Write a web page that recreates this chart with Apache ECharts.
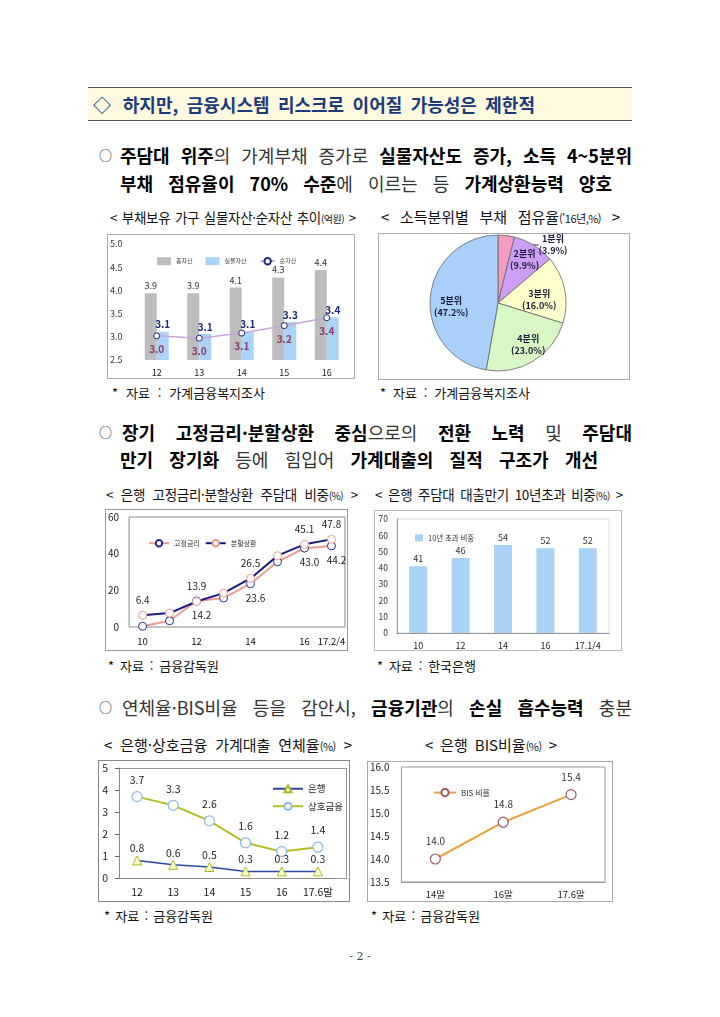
<!DOCTYPE html>
<html lang="ko"><head><meta charset="utf-8">
<title>chart</title>
<script src="https://cdn.jsdelivr.net/npm/echarts@6/dist/echarts.min.js"></script>
<style>
html,body{margin:0;padding:0;background:#fff;}
body{width:720px;height:1017px;position:relative;overflow:hidden;font-family:"Noto Sans CJK KR","Noto Sans",sans-serif;color:#111;}
.t{position:absolute;white-space:nowrap;text-align:justify;text-align-last:justify;}
.hdr{position:absolute;left:88px;top:87px;width:544px;height:34px;background:#fdfae0;border-top:1px solid #555;border-bottom:1px solid #555;box-sizing:border-box;}
.hd{font-size:18px;line-height:24px;height:24px;color:#1b3a7c;font-weight:bold;}
.bl{font-size:18px;line-height:24px;height:24px;color:#333;}
.bl b{color:#000;}
.dot{position:absolute;font-size:13px;line-height:24px;height:24px;color:#222;}
.ttl{font-size:13.5px;line-height:18px;height:18px;color:#111;letter-spacing:-0.3px;}
.ttl.big{font-size:15px;letter-spacing:0;}
.ttl small{font-size:10px;letter-spacing:-0.5px;}
.ttl.big small{font-size:11px;}
.src{font-size:13px;line-height:16px;height:16px;color:#111;}
.box{position:absolute;box-sizing:border-box;border:1px solid #aaa;}
.frame{position:absolute;box-sizing:border-box;border:1px solid #999;}
.ch{position:absolute;}
.pg{position:absolute;left:330px;width:60px;text-align:center;top:950px;font-family:"DejaVu Serif",serif;font-size:11px;color:#444;}
</style></head><body>

<div class="hdr"></div>
<div class="t hd" style="left:93px;width:442px;top:92px;">◇ 하지만, 금융시스템 리스크로 이어질 가능성은 제한적</div>

<div class="dot" style="left:99px;top:143px;">○</div>
<div class="t bl" style="left:120px;width:512px;top:143px;"><b>주담대 위주</b>의 가계부채 증가로 <b>실물자산도 증가, 소득 4~5분위</b></div>
<div class="t bl" style="left:120px;width:492px;top:171px;"><b>부채 점유율이 70% 수준</b>에 이르는 등 <b>가계상환능력 양호</b></div>

<div class="t ttl" style="left:110px;width:246px;top:208px;">&lt; 부채보유 가구 실물자산·순자산 추이<small>(억원)</small> &gt;</div>
<div class="t ttl big" style="left:381px;width:239px;top:208px;">&lt; 소득분위별 부채 점유율<small>('16년,%)</small> &gt;</div>

<div class="box" style="left:107px;top:234px;width:248px;height:145px;"></div>
<div class="box" style="left:378px;top:233px;width:252px;height:147px;"></div>
<div class="ch" id="c1" style="left:107px;top:234px;width:248px;height:145px;"></div>
<div class="ch" id="c2" style="left:378px;top:233px;width:252px;height:147px;"></div>

<div class="t src" style="left:112px;width:153px;top:385px;">* 자료 : 가계금융복지조사</div>
<div class="t src" style="left:380px;width:150px;top:385px;">* 자료 : 가계금융복지조사</div>

<div class="dot" style="left:99px;top:420px;">○</div>
<div class="t bl" style="left:122px;width:510px;top:420px;"><b>장기 고정금리·분할상환 중심</b>으로의 <b>전환 노력</b> 및 <b>주담대</b></div>
<div class="t bl" style="left:120px;width:478px;top:447px;"><b>만기 장기화</b> 등에 힘입어 <b>가계대출의 질적 구조가 개선</b></div>

<div class="t ttl" style="left:106px;width:252px;top:485px;">&lt; 은행 고정금리·분할상환 주담대 비중<small>(%)</small> &gt;</div>
<div class="t ttl" style="left:375px;width:248px;top:485px;">&lt; 은행 주담대 대출만기 10년초과 비중<small>(%)</small> &gt;</div>

<div class="box" style="left:105px;top:509px;width:243px;height:142px;border-color:#999;"></div>
<div class="box" style="left:374px;top:510px;width:248px;height:141px;border-color:#bbb;"></div>
<div class="ch" id="c3" style="left:105px;top:509px;width:243px;height:142px;"></div>
<div class="ch" id="c4" style="left:374px;top:510px;width:248px;height:141px;"></div>

<div class="t src" style="left:108px;width:111px;top:658px;">* 자료 : 금융감독원</div>
<div class="t src" style="left:377px;width:99px;top:658px;">* 자료 : 한국은행</div>

<div class="dot" style="left:99px;top:695px;">○</div>
<div class="t bl" style="left:122px;width:510px;top:695px;">연체율·BIS비율 등을 감안시, <b>금융기관</b>의 <b>손실 흡수능력</b> 충분</div>

<div class="t ttl big" style="left:104px;width:248px;top:736px;">&lt; 은행·상호금융 가계대출 연체율<small>(%)</small> &gt;</div>
<div class="t ttl big" style="left:425px;width:132px;top:736px;">&lt; 은행 BIS비율<small>(%)</small> &gt;</div>

<div class="box" style="left:98px;top:760px;width:252px;height:142px;border-color:#888;"></div>
<div class="frame" style="left:119px;top:768px;width:228px;height:111px;"></div>
<div class="box" style="left:367px;top:761px;width:246px;height:141px;"></div>
<div class="ch" id="c5" style="left:98px;top:760px;width:252px;height:142px;"></div>
<div class="ch" id="c6" style="left:367px;top:761px;width:246px;height:141px;"></div>

<div class="t src" style="left:104px;width:109px;top:908px;">* 자료 : 금융감독원</div>
<div class="t src" style="left:371px;width:109px;top:908px;">* 자료 : 금융감독원</div>

<div class="pg">- 2 -</div>

<script>
// ---------- data ----------
// chart 1: 부채보유 가구 실물자산·순자산 추이 (억원)
const c1Categories = ['12', '13', '14', '15', '16'];
const c1TotalAssets = [3.94, 3.94, 4.06, 4.28, 4.44];
const c1RealAssets = [3.11, 3.06, 3.11, 3.32, 3.42];
const c1NetAssets = [3.02, 2.97, 3.08, 3.24, 3.41];

// chart 2: 소득분위별 부채 점유율 ('16년, %)
const c2Names = ['1분위', '2분위', '3분위', '4분위', '5분위'];
const c2Values = [3.9, 9.9, 16.0, 23.0, 47.2];

// chart 3: 은행 고정금리·분할상환 주담대 비중 (%)
const c3Categories = ['10', '11', '12', '13', '14', '15', '16', '17.2/4'];
const c3Fixed = [0.4, 3.4, 14.2, 15.8, 23.6, 35.6, 43.0, 44.2];
const c3Amortized = [6.4, 7.6, 13.9, 18.5, 26.5, 38.9, 45.1, 47.8];
const c3FixedLabelIdx = [2, 4, 6, 7];
const c3AmortLabelIdx = [0, 2, 4, 6, 7];

// chart 4: 은행 주담대 대출만기 10년초과 비중 (%)
const c4Categories = ['10', '12', '14', '16', '17.1/4'];
const c4Values = [41, 46, 54, 52, 52];

// chart 5: 은행·상호금융 가계대출 연체율 (%)
const c5Categories = ['12', '13', '14', '15', '16', '17.6말'];
const c5Bank = [0.8, 0.6, 0.5, 0.3, 0.3, 0.3];
const c5Mutual = [3.7, 3.3, 2.6, 1.6, 1.2, 1.4];

// chart 6: 은행 BIS비율 (%)
const c6Categories = ['14말', '16말', '17.6말'];
const c6Values = [14.0, 14.8, 15.4];

// ---------- helpers ----------
const FF = '"Noto Sans CJK KR","Noto Sans",sans-serif';
const f1 = p => Number(p.value).toFixed(1);
function mk(id) { return echarts.init(document.getElementById(id)); }

// ---------- chart 1 ----------
mk('c1').setOption({
  animation: false,
  textStyle: { fontFamily: FF },
  grid: { left: 28, right: 7, top: 10, bottom: 19 },
  legend: {
    left: 45, top: 18, itemWidth: 14, itemHeight: 8, itemGap: 13,
    textStyle: { fontSize: 6, color: '#444' },
    data: [{ name: '총자산', icon: 'rect' }, { name: '실물자산', icon: 'rect' }, '순자산']
  },
  xAxis: {
    type: 'category', data: c1Categories,
    axisLine: { show: false }, axisTick: { show: false },
    axisLabel: { fontSize: 9, color: '#222', margin: 8 }
  },
  yAxis: {
    type: 'value', min: 2.5, max: 5, interval: 0.5,
    axisLine: { show: false }, axisTick: { show: false }, splitLine: { show: false },
    axisLabel: { fontSize: 9, color: '#333', margin: 13, formatter: v => v.toFixed(1) }
  },
  series: [
    { name: '총자산', type: 'bar', data: c1TotalAssets, barWidth: 12, barGap: '0%',
      itemStyle: { color: '#bdbdbd' },
      label: { show: true, position: 'top', distance: 3, fontSize: 9, color: '#333', formatter: f1 } },
    { name: '실물자산', type: 'bar', data: c1RealAssets, barWidth: 12,
      itemStyle: { color: '#a9d3f7' },
      label: { show: true, position: 'top', distance: 2, fontSize: 10, fontWeight: 'bold', color: '#1c2a7a', formatter: f1 } },
    { name: '순자산', type: 'line', data: c1NetAssets, symbol: 'circle', symbolSize: 6, z: 5,
      lineStyle: { color: '#c5a6de', width: 1.5 },
      itemStyle: { color: '#fff', borderColor: '#1c2a7a', borderWidth: 1 },
      label: { show: true, position: 'bottom', distance: 5, fontSize: 10, fontWeight: 'bold', color: '#8a3d6b', formatter: f1 } }
  ]
});

// ---------- chart 2 ----------
const c2Colors = ['#f49bc0', '#cc9ff5', '#ffffcc', '#d9f7c4', '#a9d0f8'];
const c2Offsets = [[0, 0], [7, -12], [5, 4], [11, 10], [-10, 7]];
mk('c2').setOption({
  animation: false,
  textStyle: { fontFamily: FF },
  series: [{
    type: 'pie', center: [120, 70], radius: 68, startAngle: 90, clockwise: true,
    avoidLabelOverlap: false,
    itemStyle: { borderColor: '#666', borderWidth: 0.8 },
    label: {
      show: true, position: 'inside', fontSize: 9, fontWeight: 'bold', color: '#1a1a3a', lineHeight: 12,
      formatter: p => p.name + '\n(' + Number(p.value).toFixed(1) + '%)'
    },
    labelLayout: function (p) {
      if (p.dataIndex === 0) return { x: 175, y: 12, align: 'center', verticalAlign: 'middle' };
    },
    data: c2Names.map((n, i) => ({
      name: n, value: c2Values[i],
      itemStyle: { color: c2Colors[i] },
      label: i === 0 ? { position: 'outside' } : { offset: c2Offsets[i] },
      labelLine: i === 0 ? { show: true, length: 6, length2: 10, lineStyle: { color: '#222', width: 1 } } : { show: false }
    }))
  }]
});

// ---------- chart 3 ----------
mk('c3').setOption({
  animation: false,
  textStyle: { fontFamily: FF },
  grid: { left: 23, right: 1, top: 8, bottom: 24, show: true, borderColor: '#888', borderWidth: 1 },
  legend: {
    left: 38, top: 25, itemWidth: 20, itemHeight: 8, itemGap: 5,
    textStyle: { fontSize: 7, color: '#333' },
    data: ['고정금리', '분할상환']
  },
  xAxis: {
    type: 'category', data: c3Categories,
    axisLine: { show: false }, axisTick: { show: false },
    axisLabel: { fontSize: 9.5, color: '#111', margin: 10,
      interval: (i) => i % 2 === 0 || i === c3Categories.length - 1 }
  },
  yAxis: {
    type: 'value', min: 0, max: 60, interval: 20,
    axisLine: { show: false }, axisTick: { show: false }, splitLine: { show: false },
    axisLabel: { fontSize: 10, color: '#222', margin: 10 }
  },
  series: [
    { name: '고정금리', type: 'line', data: c3Fixed, symbol: 'circle', symbolSize: 8,
      lineStyle: { color: '#ec9c94', width: 2 },
      itemStyle: { color: '#fff', borderColor: '#2b2b8f', borderWidth: 1 },
      label: { show: true, position: 'bottom', distance: 5, offset: [5, 0], fontSize: 10, color: '#222',
        formatter: p => c3FixedLabelIdx.includes(p.dataIndex) ? p.value.toFixed(1) : '' } },
    { name: '분할상환', type: 'line', data: c3Amortized, symbol: 'circle', symbolSize: 8, z: 3,
      lineStyle: { color: '#1a1a7e', width: 2 },
      itemStyle: { color: '#fff', borderColor: '#e89a8a', borderWidth: 1 },
      label: { show: true, position: 'top', distance: 6, fontSize: 10, color: '#222',
        formatter: p => c3AmortLabelIdx.includes(p.dataIndex) ? p.value.toFixed(1) : '' } }
  ]
});

// ---------- chart 4 ----------
mk('c4').setOption({
  animation: false,
  textStyle: { fontFamily: FF },
  grid: { left: 23, right: 13, top: 9, bottom: 18, show: true, borderColor: '#ddd', borderWidth: 1 },
  legend: {
    left: 36, top: 19, itemWidth: 8, itemHeight: 7, icon: 'rect',
    textStyle: { fontSize: 7.5, color: '#333' },
    data: ['10년 초과 비중']
  },
  xAxis: {
    type: 'category', data: c4Categories,
    axisLine: { lineStyle: { color: '#999' } },
    axisTick: { inside: true, length: 3, lineStyle: { color: '#999' } },
    axisLabel: { fontSize: 9, color: '#222', margin: 8, interval: 0 }
  },
  yAxis: {
    type: 'value', min: 0, max: 70, interval: 10,
    axisLine: { show: true, lineStyle: { color: '#999' } }, axisTick: { show: false }, splitLine: { show: false },
    axisLabel: { fontSize: 8.5, color: '#333', margin: 9 }
  },
  series: [
    { name: '10년 초과 비중', type: 'bar', data: c4Values, barWidth: 18,
      itemStyle: { color: '#a8d2f6' },
      label: { show: true, position: 'top', distance: 3, fontSize: 9, color: '#333' } }
  ]
});

// ---------- chart 5 ----------
mk('c5').setOption({
  animation: false,
  textStyle: { fontFamily: FF },
  grid: { left: 21, right: 14, top: 8, bottom: 24 },
  legend: {
    orient: 'vertical', left: 169, top: 19, itemWidth: 30, itemHeight: 9, itemGap: 8,
    textStyle: { fontSize: 9.5, color: '#222' },
    data: ['은행', '상호금융']
  },
  xAxis: {
    type: 'category', data: c5Categories,
    axisLine: { lineStyle: { color: '#888' } },
    axisTick: { inside: true, length: 4, interval: 0, lineStyle: { color: '#666' } },
    axisLabel: { fontSize: 10.5, color: '#222', margin: 9, interval: 0 }
  },
  yAxis: {
    type: 'value', min: 0, max: 5, interval: 1,
    axisLine: { show: true, lineStyle: { color: '#888' } },
    axisTick: { show: true, length: 4, lineStyle: { color: '#666' } },
    splitLine: { show: false },
    axisLabel: { fontSize: 10.5, color: '#222', margin: 11 }
  },
  series: [
    { name: '은행', type: 'line', data: c5Bank, symbol: 'triangle', symbolSize: 9,
      lineStyle: { color: '#2b48a8', width: 1.5 },
      itemStyle: { color: '#ffffd0', borderColor: '#a8b820', borderWidth: 1 },
      label: { show: true, position: 'top', distance: 2, fontSize: 10.5, color: '#222', formatter: f1 } },
    { name: '상호금융', type: 'line', data: c5Mutual, symbol: 'circle', symbolSize: 10,
      lineStyle: { color: '#b3be1e', width: 2 },
      itemStyle: { color: '#fff', borderColor: '#8bb8e8', borderWidth: 1.2 },
      label: { show: true, position: 'top', distance: 6, fontSize: 10.5, color: '#222', formatter: f1 } }
  ]
});

// ---------- chart 6 ----------
mk('c6').setOption({
  animation: false,
  textStyle: { fontFamily: FF },
  grid: { left: 34, right: 8, top: 6, bottom: 20, show: true, borderColor: '#999', borderWidth: 1 },
  legend: {
    left: 61, top: 22, itemWidth: 22, itemHeight: 9,
    textStyle: { fontSize: 8, color: '#333' },
    data: ['BIS 비율']
  },
  xAxis: {
    type: 'category', data: c6Categories,
    axisLine: { lineStyle: { color: '#999' } },
    axisTick: { inside: true, length: 4, lineStyle: { color: '#999' } },
    axisLabel: { fontSize: 9.5, color: '#222', margin: 8, interval: 0 }
  },
  yAxis: {
    type: 'value', min: 13.5, max: 16, interval: 0.5,
    axisLine: { show: false }, axisTick: { show: false }, splitLine: { show: false },
    axisLabel: { fontSize: 10, color: '#222', margin: 12, formatter: v => v.toFixed(1) }
  },
  series: [
    { name: 'BIS 비율', type: 'line', data: c6Values, symbol: 'circle', symbolSize: 10,
      lineStyle: { color: '#e8a33a', width: 2 },
      itemStyle: { color: '#fff', borderColor: '#9b5a6a', borderWidth: 1.2 },
      label: { show: true, position: 'top', distance: 7, fontSize: 10, color: '#333', formatter: f1 } }
  ]
});
</script>
</body></html>
